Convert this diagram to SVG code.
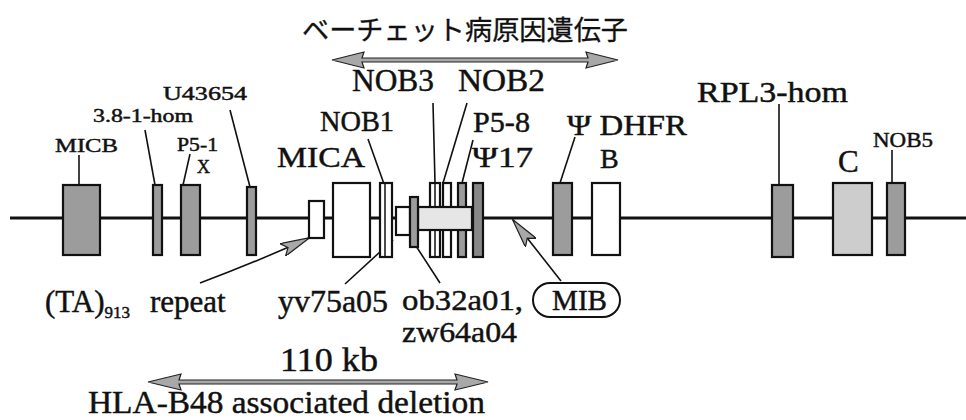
<svg xmlns="http://www.w3.org/2000/svg" width="966" height="420" viewBox="0 0 966 420">
<defs>
<style>
text{font-family:"Liberation Serif","Times New Roman",serif;fill:#111;stroke:#111;stroke-width:0.45}
.jp{font-family:"Noto Sans CJK JP","Noto Sans CJK SC",sans-serif;stroke-width:0.3}
.box{stroke:#111;stroke-width:2.2}
.w{fill:#fff}
.g{fill:#9c9c9c}
.lg{fill:#cdcdcd}
.xl{fill:#e6e6e6}
.dg{fill:#888}
.ld{stroke:#111;stroke-width:1.6;fill:none}
.ar{fill:#a8a8a8;stroke:#222;stroke-width:1.2}
</style>
<marker id="ah" viewBox="0 0 30 14" refX="29" refY="7" markerWidth="30" markerHeight="14" markerUnits="userSpaceOnUse" orient="auto"><path d="M0,0 L30,7 L0,14 L6,7 Z" class="ar"/></marker>
</defs>
<rect width="966" height="420" fill="#fff"/>

<g id="connectors">
<line x1="10" y1="218" x2="966" y2="218" stroke="#111" stroke-width="3"/>
<line class="ld" x1="79" y1="155" x2="79" y2="185"/>
<line class="ld" x1="145" y1="130" x2="155" y2="185"/>
<line class="ld" x1="190" y1="154" x2="183" y2="185"/>
<line class="ld" x1="230" y1="110" x2="250" y2="187"/>
<line class="ld" x1="368" y1="139" x2="384" y2="184"/>
<line class="ld" x1="433" y1="103" x2="435" y2="183"/>
<line class="ld" x1="467" y1="103" x2="443" y2="183"/>
<line class="ld" x1="473" y1="140" x2="462" y2="183"/>
<line class="ld" x1="575" y1="137" x2="560" y2="183"/>
<line class="ld" x1="779" y1="104" x2="779" y2="185"/>
<line class="ld" x1="892" y1="150" x2="892" y2="183"/>
<line class="ld" x1="345" y1="284" x2="393" y2="240"/>
<line class="ld" x1="440" y1="283" x2="416" y2="246"/>
<path class="ld" d="M200,283 Q256,262 309,238" stroke-width="2.2" marker-end="url(#ah)"/>
<path class="ld" d="M561,281 L513,220" stroke-width="2.2" marker-end="url(#ah)"/>
<polygon class="ar" points="332,60 364,52 362,58 588,58 586,52 618,60 586,68 588,62 362,62 364,68"/>
<polygon class="ar" points="148,382 181,374 179,380 457,380 455,374 488,382 455,390 457,384 179,384 181,390"/>
</g>

<g id="title"><text class="jp" x="302" y="40" font-size="27" textLength="326" lengthAdjust="spacingAndGlyphs">ベーチェット病原因遺伝子</text></g>

<g id="MICB"><rect class="box g" x="63" y="185" width="37" height="70"/><text x="55" y="152" font-size="19" textLength="63" lengthAdjust="spacingAndGlyphs">MICB</text></g>
<g id="hom381"><rect class="box g" x="153" y="185" width="9" height="70"/><text x="93" y="122" font-size="18" textLength="100" lengthAdjust="spacingAndGlyphs">3.8-1-hom</text></g>
<g id="P5-1"><rect class="box g" x="181" y="185" width="19" height="70"/><text x="177" y="151" font-size="18" textLength="41" lengthAdjust="spacingAndGlyphs">P5-1</text><text x="197" y="173" font-size="18">X</text></g>
<g id="U43654"><rect class="box g" x="247" y="187" width="9" height="68"/><text x="163" y="100" font-size="19" textLength="84" lengthAdjust="spacingAndGlyphs">U43654</text></g>
<g id="TA"><rect class="box w" x="309" y="201" width="15" height="37"/><text x="45" y="312" font-size="31">(TA)<tspan font-size="17" dy="6">913</tspan><tspan dy="-6" dx="20">repeat</tspan></text></g>
<g id="MICA"><rect class="box w" x="333" y="183" width="37" height="74"/><text x="277" y="167" font-size="30" textLength="88" lengthAdjust="spacingAndGlyphs">MICA</text></g>
<g id="NOB1"><rect class="box w" x="380" y="183" width="12" height="74"/><line x1="385" y1="183" x2="385" y2="257" stroke="#111" stroke-width="1.5"/><text x="320" y="131" font-size="30" textLength="74" lengthAdjust="spacingAndGlyphs">NOB1</text></g>
<g id="yv75a05"><rect class="box w" x="396" y="207" width="14" height="28"/><text x="278" y="312" font-size="31" textLength="110" lengthAdjust="spacingAndGlyphs">yv75a05</text></g>
<g id="NOB3"><rect class="box w" x="430" y="183" width="10" height="74"/><line x1="435" y1="183" x2="435" y2="257" stroke="#111" stroke-width="1.5"/><text x="352" y="91" font-size="31" textLength="82" lengthAdjust="spacingAndGlyphs">NOB3</text></g>
<g id="NOB2"><rect class="box w" x="443" y="183" width="8" height="74"/><text x="458" y="91" font-size="31" textLength="87" lengthAdjust="spacingAndGlyphs">NOB2</text></g>
<g id="P5-8"><rect class="box g" x="458" y="183" width="8" height="74"/><text x="473" y="132" font-size="30" textLength="57" lengthAdjust="spacingAndGlyphs">P5-8</text></g>
<g id="wide"><rect class="box xl" x="418" y="207" width="54" height="23"/></g>
<g id="ob32a01"><rect class="box g" x="410" y="197" width="8" height="50"/><text x="402" y="310" font-size="30" textLength="121" lengthAdjust="spacingAndGlyphs">ob32a01,</text><text x="402" y="342" font-size="29" textLength="115" lengthAdjust="spacingAndGlyphs">zw64a04</text></g>
<g id="psi17"><rect class="box dg" x="473" y="183" width="10" height="74"/><text x="472" y="167" font-size="30" textLength="61" lengthAdjust="spacingAndGlyphs">Ψ17</text></g>
<g id="MIB"><rect x="533" y="283" width="87" height="34" rx="17" fill="#fff" stroke="#111" stroke-width="2"/><text x="552" y="310" font-size="29" textLength="55" lengthAdjust="spacingAndGlyphs">MIB</text></g>
<g id="DHFR"><rect class="box g" x="553" y="183" width="19" height="72"/><text x="567" y="135" font-size="30" textLength="120" lengthAdjust="spacingAndGlyphs">Ψ DHFR</text></g>
<g id="B"><rect class="box w" x="592" y="183" width="28" height="72"/><text x="600" y="168" font-size="28">B</text></g>
<g id="RPL3"><rect class="box g" x="772" y="185" width="21" height="72"/><text x="697" y="102" font-size="29" textLength="151" lengthAdjust="spacingAndGlyphs">RPL3-hom</text></g>
<g id="C"><rect class="box lg" x="833" y="183" width="39" height="72"/><text x="838" y="172" font-size="31">C</text></g>
<g id="NOB5"><rect class="box g" x="887" y="183" width="18" height="72"/><text x="873" y="147" font-size="21" textLength="60" lengthAdjust="spacingAndGlyphs">NOB5</text></g>
<g id="deletion"><text x="280" y="371" font-size="33" textLength="98" lengthAdjust="spacingAndGlyphs">110 kb</text><text x="88" y="413" font-size="32" textLength="397" lengthAdjust="spacingAndGlyphs">HLA-B48 associated deletion</text></g>
</svg>
